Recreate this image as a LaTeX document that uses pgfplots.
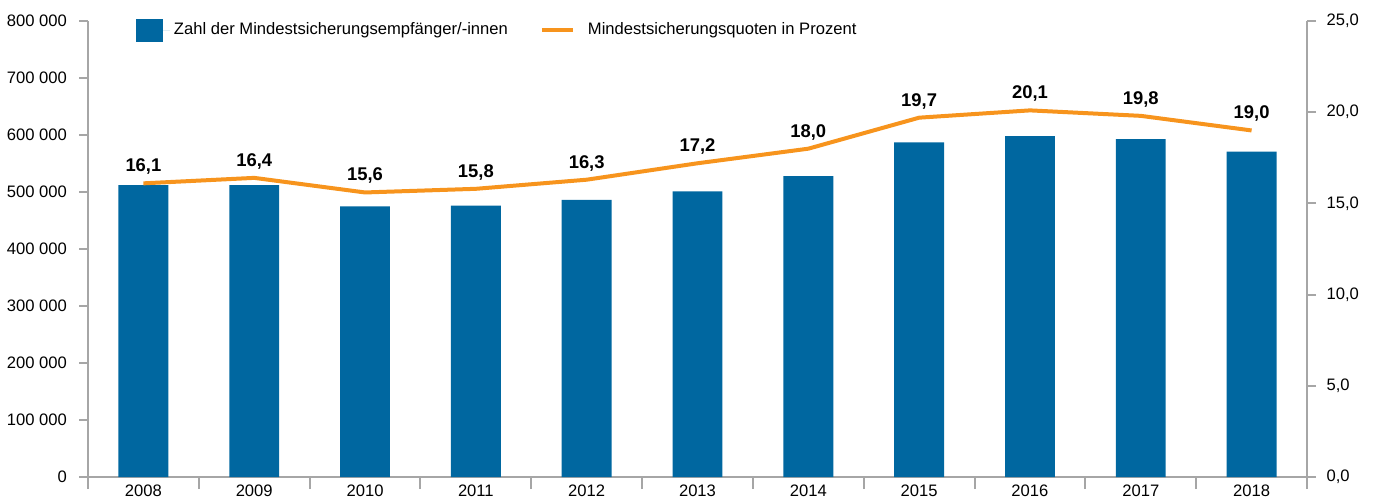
\documentclass[border=0pt]{standalone}
\usepackage{pgfplots}
\pgfplotsset{compat=1.18}
\usepackage{fontspec}
\setmainfont{Liberation Sans}
\definecolor{barblue}{RGB}{0,103,160}
\definecolor{lineorange}{RGB}{247,148,29}
\definecolor{axisgray}{RGB}{166,166,166}

\pgfplotsset{
  common/.style={
    scale only axis,
    width=609.5pt, height=228pt,
    xmin=-0.5, xmax=10.5,
    tick align=outside,
    axis line style={axisgray,line width=1pt},
    tick style={axisgray,line width=1pt},
    major tick length=4.5pt,
    minor tick length=6pt,
    scaled y ticks=false,
    tick label style={font=\fontsize{8.3}{10}\selectfont},
  },
}

\begin{document}
\begin{tikzpicture}
\path[use as bounding box] (-44pt,-11.5pt) rectangle (645pt,238.5pt);

%% bars: number of recipients (left axis)
\begin{axis}[
  common,
  ymin=0, ymax=800000,
  axis y line*=left, axis x line*=bottom,
  ytick={0,100000,200000,300000,400000,500000,600000,700000,800000},
  yticklabels={0,100 000,200 000,300 000,400 000,500 000,600 000,700 000,800 000},
  yticklabel style={xshift=-2.5pt},
  xtick={0,1,2,3,4,5,6,7,8,9,10},
  xticklabels={2008,2009,2010,2011,2012,2013,2014,2015,2016,2017,2018},
  major x tick style={draw=none},
  minor xtick={-0.5,0.5,1.5,2.5,3.5,4.5,5.5,6.5,7.5,8.5,9.5,10.5},
  xticklabel style={yshift=4pt},
  legend columns=2,
  legend style={draw=none, fill=none, at={(0.039,0.98)}, anchor=west,
    inner sep=0pt, font=\fontsize{8.3}{10}\selectfont,
    /tikz/every even column/.append style={column sep=14pt}},
]
\addplot[ybar, bar width=0.45, fill=barblue, draw=none,
  legend image code/.code={\fill[barblue] (0pt,-5.75pt) rectangle (13.5pt,5.75pt);
    \path[draw=none] (0pt,0pt) -- (17pt,0pt);}]
  coordinates {(0,512000) (1,512000) (2,475000) (3,476000) (4,486000)
               (5,501000) (6,528000) (7,587000) (8,598000) (9,593000) (10,571000)};
\addlegendentry{Zahl der Mindestsicherungsempfänger/-innen}
\addlegendimage{draw=none, legend image code/.code={\draw[lineorange,line width=2pt] (0pt,0pt) -- (15.5pt,0pt);
    \path[draw=none] (0pt,0pt) -- (21pt,0pt);}}
\addlegendentry{Mindestsicherungsquoten in Prozent}
\end{axis}

%% line: rate in percent (right axis)
\begin{axis}[
  common,
  ymin=0, ymax=25,
  axis y line*=right, axis x line=none,
  ytick={0,5,10,15,20,25},
  yticklabels={{0,0},{5,0},{10,0},{15,0},{20,0},{25,0}},
  yticklabel style={xshift=1.75pt},
  nodes near coords,
  point meta=explicit symbolic,
  every node near coord/.append style={font=\bfseries\fontsize{9.2}{11}\selectfont,
    black, yshift=0pt},
]
\addplot[lineorange, line width=2pt, mark=none]
  coordinates {(0,16.1) [{16,1}] (1,16.4) [{16,4}] (2,15.6) [{15,6}]
               (3,15.8) [{15,8}] (4,16.3) [{16,3}] (5,17.2) [{17,2}]
               (6,18.0) [{18,0}] (7,19.7) [{19,7}] (8,20.1) [{20,1}]
               (9,19.8) [{19,8}] (10,19.0) [{19,0}]};
\end{axis}
\end{tikzpicture}
\end{document}
